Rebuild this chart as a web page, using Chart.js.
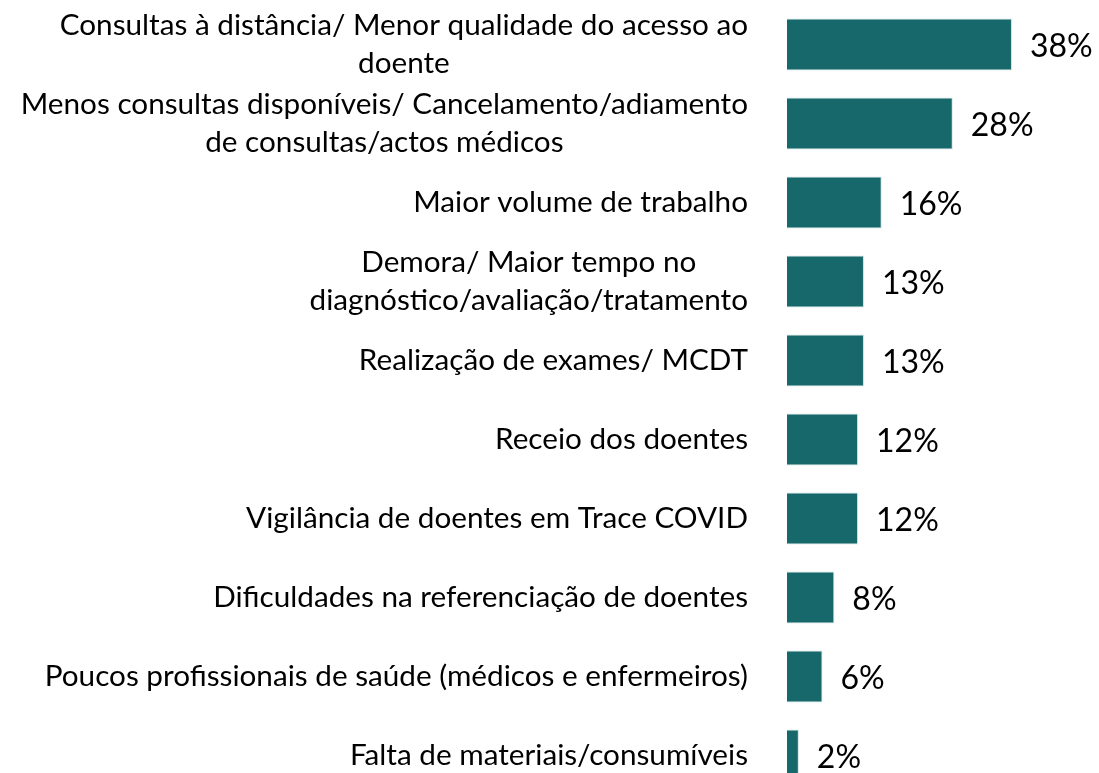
<!DOCTYPE html>
<html>
<head>
<meta charset="utf-8">
<script src="https://cdn.jsdelivr.net/npm/chart.js@4/dist/chart.umd.min.js"></script>
<style>
  html, body { margin: 0; padding: 0; background: #fff; overflow: hidden; }
  #wrap { width: 1099px; height: 800px; }
</style>
</head>
<body>
<div id="wrap"><canvas id="chart" width="1099" height="800"></canvas></div>
<script>
var categories = [
    ['Consultas à distância/ Menor qualidade do acesso ao', 'doente'],
    ['Menos consultas disponíveis/ Cancelamento/adiamento', 'de consultas/actos médicos'],
    ['Maior volume de trabalho'],
    ['Demora/ Maior tempo no', 'diagnóstico/avaliação/tratamento'],
    ['Realização de exames/ MCDT'],
    ['Receio dos doentes'],
    ['Vigilância de doentes em Trace COVID'],
    ['Dificuldades na referenciação de doentes'],
    ['Poucos profissionais de saúde (médicos e enfermeiros)'],
    ['Falta de materiais/consumíveis']
];
var values = [38, 28, 16, 13, 13, 12, 12, 8, 6, 2];

var barColor = '#17686a';
var labelFont = '29.7px Lato, "Open Sans", sans-serif';
var valueFont = '32px Lato, "Open Sans", sans-serif';
var labelRight = 748;
var lineHeight = 38;

// draws the category labels: each block right aligned, lines centred on the widest one
var labelPlugin = {
    id: 'blockLabels',
    afterDraw: function (chart) {
        var ctx = chart.ctx;
        var yScale = chart.scales.y;
        ctx.save();
        ctx.font = labelFont;
        ctx.fillStyle = '#000';
        ctx.textAlign = 'center';
        ctx.textBaseline = 'middle';
        categories.forEach(function (lines, i) {
            var maxW = 0;
            lines.forEach(function (l) { maxW = Math.max(maxW, ctx.measureText(l).width); });
            var cx = labelRight - maxW / 2;
            var cy = yScale.getPixelForTick(i);
            var top = cy - (lines.length - 1) * lineHeight / 2;
            lines.forEach(function (l, j) {
                ctx.fillText(l, cx, top + j * lineHeight);
            });
        });
        ctx.restore();
    },
    afterDatasetsDraw: function (chart) {
        var ctx = chart.ctx;
        var meta = chart.getDatasetMeta(0);
        ctx.save();
        ctx.font = valueFont;
        ctx.fillStyle = '#000';
        ctx.textAlign = 'left';
        ctx.textBaseline = 'middle';
        meta.data.forEach(function (bar, i) {
            ctx.fillText(values[i] + '%', bar.x + 18, bar.y + 2);
        });
        ctx.restore();
    }
};

var ctx = document.getElementById('chart').getContext('2d');
new Chart(ctx, {
    type: 'bar',
    data: {
        labels: categories,
        datasets: [{
            data: values,
            backgroundColor: barColor,
            borderColor: '#cfe0e0',
            borderWidth: 1,
            categoryPercentage: 1,
            barPercentage: 0.66
        }]
    },
    options: {
        indexAxis: 'y',
        responsive: false,
        animation: false,
        layout: { padding: { top: 5, bottom: 5, left: 0, right: 0 } },
        scales: {
            x: {
                display: false,
                min: 0,
                max: 52.7
            },
            y: {
                grid: { display: false },
                border: { display: false },
                ticks: { display: false },
                afterFit: function (scale) { scale.width = 787; }
            }
        },
        plugins: {
            legend: { display: false },
            tooltip: { enabled: false }
        }
    },
    plugins: [labelPlugin]
});
</script>
</body>
</html>
